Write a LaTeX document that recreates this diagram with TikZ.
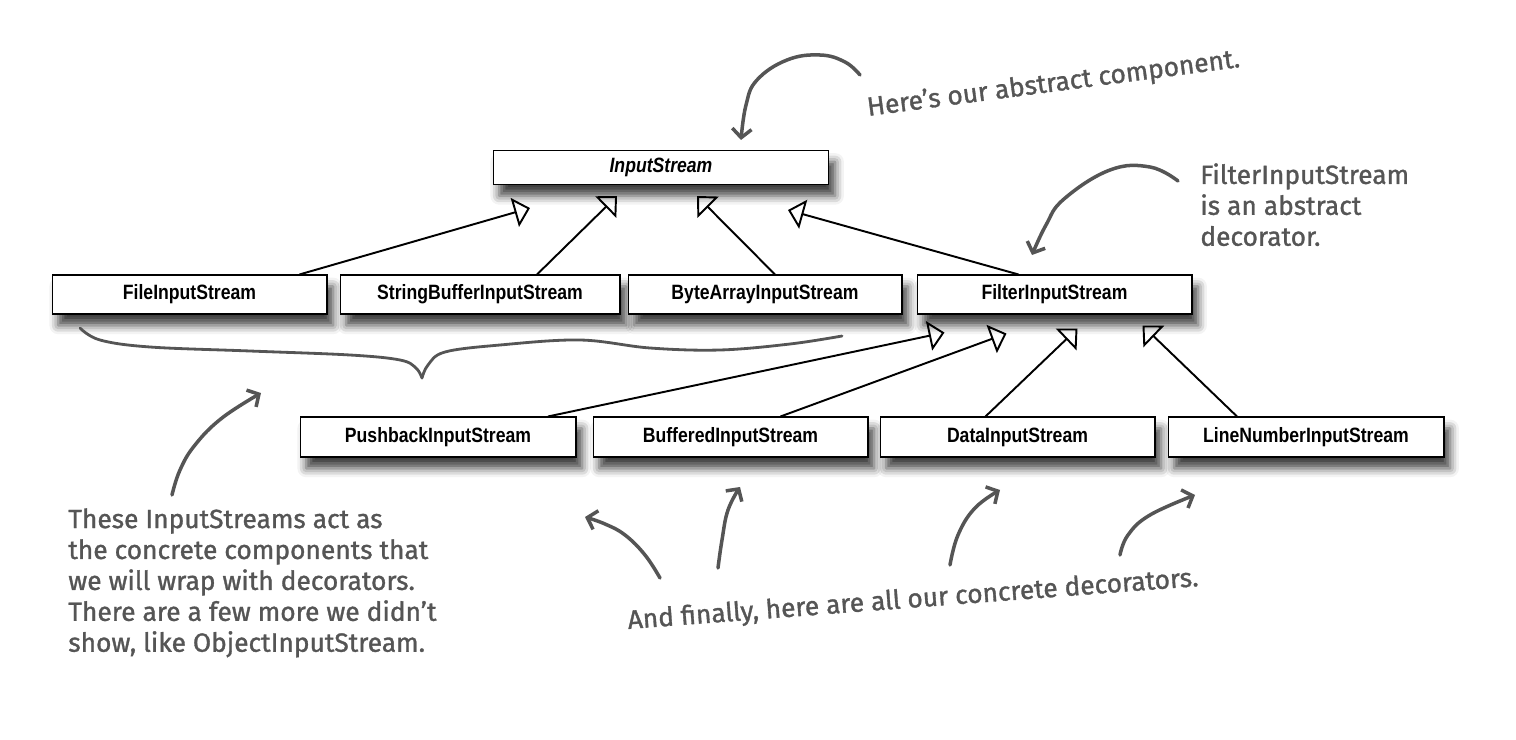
\documentclass[tikz,border=0pt]{standalone}
\usepackage{fontspec}
\setmainfont{Liberation Sans}
\newfontfamily\boxfont[FakeStretch=0.85]{Liberation Sans}
\newfontfamily\handfont[FakeBold=1.2]{Fira Sans}
\usetikzlibrary{arrows.meta,shadows.blur,calc}
\definecolor{hand}{HTML}{555555}
\tikzset{
  cls/.style={draw=black, line width=0.6pt, fill=white, inner sep=0pt,
    font=\boxfont\bfseries\fontsize{11.8}{13}\selectfont,
    blur shadow={shadow xshift=3.5pt, shadow yshift=-6.5pt, shadow blur radius=5pt, shadow opacity=75}},
  inh/.style={draw=black, line width=1.1pt,
    -{Triangle[open, length=9pt, width=17pt, line width=1.1pt]}},
  note/.style={text=hand, font=\handfont\fontsize{15}{17.6}\selectfont, align=left, inner sep=0pt},
  handarrow/.style={draw=hand, line width=2pt, line cap=round, line join=round,
    -{Straight Barb[length=5pt, width=11pt, line width=2pt]}},
  brace/.style={draw=hand, line width=1.6pt, line cap=round, line join=round},
}
\begin{document}
\begin{tikzpicture}[x=0.02cm, y=-0.02cm]
\useasboundingbox (0,0) rectangle (1516,740);
% classes
\node[cls, minimum width=6.72cm, minimum height=0.68cm] (in) at (661,167.5) {\itshape InputStream};
\node[cls, minimum width=5.5cm, minimum height=0.78cm] (file) at (189.5,294.5) {FileInputStream};
\node[cls, minimum width=5.6cm, minimum height=0.78cm] (sb) at (480,294.5) {StringBufferInputStream};
\node[cls, minimum width=5.48cm, minimum height=0.78cm] (ba) at (765,294.5) {ByteArrayInputStream};
\node[cls, minimum width=5.5cm, minimum height=0.78cm] (filter) at (1054.5,294.5) {FilterInputStream};
\node[cls, minimum width=5.52cm, minimum height=0.8cm] (push) at (438,437) {PushbackInputStream};
\node[cls, minimum width=5.5cm, minimum height=0.8cm] (buf) at (730.5,437) {BufferedInputStream};
\node[cls, minimum width=5.5cm, minimum height=0.8cm] (data) at (1017.5,437) {DataInputStream};
\node[cls, minimum width=5.52cm, minimum height=0.8cm] (line) at (1306,437) {LineNumberInputStream};
% inheritance
\draw[inh] ($(file.north)+(110,0)$) -- ($(in.south)+(-131,23)$);
\draw[inh] ($(sb.north)+(57,0)$) -- ($(in.south)+(-44,11)$);
\draw[inh] ($(ba.north)+(10,0)$) -- ($(in.south)+(36,11)$);
\draw[inh] ($(filter.north)+(-36,0)$) -- ($(in.south)+(127,25)$);
\draw[inh] ($(push.north)+(110,0)$) -- ($(filter.south)+(-110,18)$);
\draw[inh] ($(buf.north)+(50,0)$) -- ($(filter.south)+(-48,19)$);
\draw[inh] ($(data.north)+(-32,0)$) -- ($(filter.south)+(23,14)$);
\draw[inh] ($(line.north)+(-69,0)$) -- ($(filter.south)+(88,11)$);
% brace
\draw[brace] plot[smooth, tension=0.6] coordinates {(80,328) (100,340) (150,347) (250,351) (350,355) (400,360) (416,368) (422,378)};
\draw[brace] plot[smooth, tension=0.6] coordinates {(422,378) (428,365) (445,352) (500,345) (580,340) (650,348) (720,350) (790,344) (842,336)};
% notes
\node[note, rotate=7.5, anchor=base west] (n1) at (868,116) {Here’s our abstract component.};
\node[note, anchor=north west] (n2) at (1200,163) {FilterInputStream\\is an abstract\\decorator.};
\node[note, anchor=north west] (n3) at (68,508) {These InputStreams act as\\the concrete components that\\we will wrap with decorators.\\There are a few more we didn’t\\show, like ObjectInputStream.};
\node[note, rotate=4.3, anchor=base west] (n4) at (628,629) {And finally, here are all our concrete decorators.};
% hand arrows
\draw[handarrow] plot[smooth, tension=0.7] coordinates {(860,75) (845,62) (820,55) (787,60) (757,80) (746,105) (741,140)};
\draw[handarrow] plot[smooth, tension=0.7] coordinates {(1178,181) (1150,167) (1110,170) (1064,199) (1046,225) (1032,255)};
\draw[handarrow] plot[smooth, tension=0.7] coordinates {(172,495) (180,470) (195,445) (222,418) (261,393)};
\draw[handarrow] plot[smooth, tension=0.7] coordinates {(660,578) (645,555) (625,535) (605,524) (585,517)};
\draw[handarrow] plot[smooth, tension=0.7] coordinates {(718,568) (722,540) (728,510) (740,487)};
\draw[handarrow] plot[smooth, tension=0.7] coordinates {(950,565) (958,535) (975,508) (1000,490)};
\draw[handarrow] plot[smooth, tension=0.7] coordinates {(1120,555) (1128,535) (1150,515) (1195,495)};
\end{tikzpicture}
\end{document}
